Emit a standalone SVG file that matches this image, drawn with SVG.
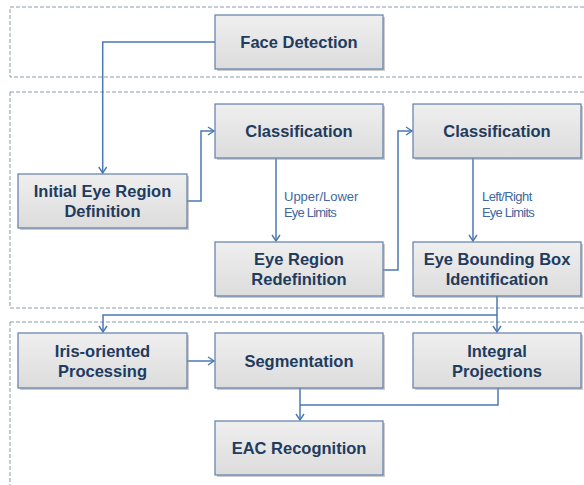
<svg xmlns="http://www.w3.org/2000/svg" width="584" height="485" viewBox="0 0 584 485">
<defs>
<linearGradient id="g" x1="0" y1="0" x2="0" y2="1">
<stop offset="0" stop-color="#efefef"/>
<stop offset="1" stop-color="#dcdcdc"/>
</linearGradient>
<marker id="arr" markerWidth="10" markerHeight="10" refX="7" refY="5" orient="auto" markerUnits="userSpaceOnUse">
<path d="M1,1 L7,5 L1,9" fill="none" stroke="#4a78b4" stroke-width="1.4"/>
</marker>
</defs>
<style>
.panel{fill:none;stroke:#8a99ad;stroke-width:1;stroke-dasharray:4,2}
.box{fill:url(#g);stroke:#5f7fa8;stroke-width:1.2}
.sh{fill:#9a9a9a;opacity:0.5}
.t{font-family:"Liberation Sans",Arial,sans-serif;font-weight:bold;font-size:16.5px;fill:#1f3b5e;text-anchor:middle}
.lbl{font-family:"Liberation Sans",Arial,sans-serif;font-size:13px;fill:#3f67a0}
.c{fill:none;stroke:#4a78b4;stroke-width:1.5}
</style>
<rect x="0" y="0" width="584" height="485" fill="#ffffff"/>
<g id="panels">
<rect class="panel" x="10" y="7" width="590" height="70"/>
<rect class="panel" x="10" y="92" width="590" height="216"/>
<rect class="panel" x="10" y="322" width="590" height="180"/>
</g>
<g id="connectors">
<path class="c" d="M215,42 H102.7 V173" marker-end="url(#arr)"/>
<path class="c" d="M187,201 H201 V131 H214" marker-end="url(#arr)"/>
<path class="c" d="M276,158 V241" marker-end="url(#arr)"/>
<path class="c" d="M383,270 H398 V131 H412" marker-end="url(#arr)"/>
<path class="c" d="M473,158 V241" marker-end="url(#arr)"/>
<path class="c" d="M497,296 V332" marker-end="url(#arr)"/>
<path class="c" d="M497,315 H103 V332" marker-end="url(#arr)"/>
<path class="c" d="M187,361 H214" marker-end="url(#arr)"/>
<path class="c" d="M300,388 V420" marker-end="url(#arr)"/>
<path class="c" d="M498,388 V405 H300"/>
</g>
<g id="face-detection">
<rect class="sh" x="217" y="17" width="168" height="54"/>
<rect class="box" x="215" y="15" width="168" height="54"/>
<text class="t" x="299" y="48">Face Detection</text>
</g>
<g id="initial-eye-region">
<rect class="sh" x="20" y="176" width="169" height="54"/>
<rect class="box" x="18" y="174" width="169" height="54"/>
<text class="t" x="102.5" y="197">Initial Eye Region</text>
<text class="t" x="102.5" y="217">Definition</text>
</g>
<g id="classification-1">
<rect class="sh" x="217" y="106" width="168" height="54"/>
<rect class="box" x="215" y="104" width="168" height="54"/>
<text class="t" x="299" y="137">Classification</text>
</g>
<g id="classification-2">
<rect class="sh" x="415" y="106" width="168" height="54"/>
<rect class="box" x="413" y="104" width="168" height="54"/>
<text class="t" x="497" y="137">Classification</text>
</g>
<g id="eye-region-redefinition">
<rect class="sh" x="217" y="244" width="168" height="54"/>
<rect class="box" x="215" y="242" width="168" height="54"/>
<text class="t" x="299" y="265">Eye Region</text>
<text class="t" x="299" y="285">Redefinition</text>
</g>
<g id="eye-bounding-box">
<rect class="sh" x="415" y="244" width="168" height="54"/>
<rect class="box" x="413" y="242" width="168" height="54"/>
<text class="t" x="497" y="265">Eye Bounding Box</text>
<text class="t" x="497" y="285">Identification</text>
</g>
<g id="label-upper-lower">
<text class="lbl" x="284" y="201">Upper/Lower</text>
<text class="lbl" x="284" y="217" letter-spacing="-0.8">Eye Limits</text>
</g>
<g id="label-left-right">
<text class="lbl" x="482" y="201" letter-spacing="-0.6">Left/Right</text>
<text class="lbl" x="482" y="217" letter-spacing="-0.8">Eye Limits</text>
</g>
<g id="iris-oriented">
<rect class="sh" x="20" y="335" width="169" height="55"/>
<rect class="box" x="18" y="333" width="169" height="55"/>
<text class="t" x="102.5" y="357">Iris-oriented</text>
<text class="t" x="102.5" y="377">Processing</text>
</g>
<g id="segmentation">
<rect class="sh" x="217" y="335" width="168" height="55"/>
<rect class="box" x="215" y="333" width="168" height="55"/>
<text class="t" x="299" y="367">Segmentation</text>
</g>
<g id="integral-projections">
<rect class="sh" x="415" y="335" width="168" height="55"/>
<rect class="box" x="413" y="333" width="168" height="55"/>
<text class="t" x="497" y="357">Integral</text>
<text class="t" x="497" y="377">Projections</text>
</g>
<g id="eac-recognition">
<rect class="sh" x="217" y="423" width="168" height="54"/>
<rect class="box" x="215" y="421" width="168" height="54"/>
<text class="t" x="299" y="454">EAC Recognition</text>
</g>
</svg>
